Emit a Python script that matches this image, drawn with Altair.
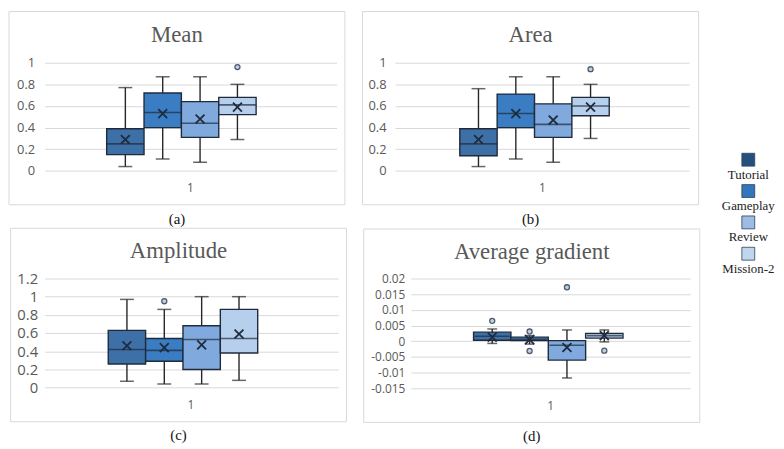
import altair as alt
import pandas as pd

# ---------------- data ----------------
series = ["Tutorial", "Gameplay", "Review", "Mission-2"]
box_colors = ["#3e70a8", "#3b7dc3", "#80aade", "#b6cfec"]
legend_colors = ["#24507e", "#3276bd", "#9cbce3", "#c0d5ee"]
category = "1"

titles = ["Mean", "Area", "Amplitude", "Average gradient"]
captions = ["(a)", "(b)", "(c)", "(d)"]

mean_low = [0.04, 0.11, 0.08, 0.29]
mean_q1 = [0.15, 0.40, 0.31, 0.52]
mean_median = [0.25, 0.54, 0.44, 0.61]
mean_q3 = [0.39, 0.72, 0.64, 0.68]
mean_high = [0.77, 0.87, 0.87, 0.80]
mean_avg = [0.29, 0.53, 0.48, 0.59]
mean_outliers = [[], [], [], [0.96]]
mean_ticks = [0, 0.2, 0.4, 0.6, 0.8, 1]

area_low = [0.04, 0.11, 0.08, 0.30]
area_q1 = [0.14, 0.40, 0.31, 0.51]
area_median = [0.25, 0.53, 0.43, 0.60]
area_q3 = [0.39, 0.71, 0.62, 0.68]
area_high = [0.76, 0.87, 0.87, 0.80]
area_avg = [0.29, 0.53, 0.47, 0.59]
area_outliers = [[], [], [], [0.94]]
area_ticks = [0, 0.2, 0.4, 0.6, 0.8, 1]

amp_low = [0.07, 0.04, 0.04, 0.08]
amp_q1 = [0.26, 0.29, 0.20, 0.38]
amp_median = [0.42, 0.41, 0.53, 0.54]
amp_q3 = [0.63, 0.54, 0.68, 0.86]
amp_high = [0.97, 0.86, 1.00, 1.00]
amp_avg = [0.46, 0.44, 0.47, 0.59]
amp_outliers = [[], [0.95], [], []]
amp_ticks = [0, 0.2, 0.4, 0.6, 0.8, 1, 1.2]

grad_low = [-0.0007, -0.0009, -0.0117, -0.0002]
grad_q1 = [0.0003, 0.0002, -0.0060, 0.0010]
grad_median = [0.0016, 0.0006, -0.0013, 0.0018]
grad_q3 = [0.0029, 0.0013, 0.0002, 0.0025]
grad_high = [0.0039, 0.0018, 0.0036, 0.0036]
grad_avg = [0.0013, 0.0005, -0.0020, 0.0018]
grad_outliers = [[0.0065], [0.0031, -0.0031], [0.0172], [-0.0030]]
grad_ticks = [-0.015, -0.01, -0.005, 0, 0.005, 0.01, 0.015, 0.02]

# ---------------- layout (sizes only) ----------------
geoms = [
    dict(L=36, W=295, R=8.4, T=51.7, H=109.3, B=34.2, gl=62.7, gw=151, lab=13, pad=10, cap=14),
    dict(L=32.8, W=297.2, R=9.6, T=51.7, H=109.3, B=34.2, gl=65.5, gw=150.7, lab=13, pad=9, cap=14),
    dict(L=34.4, W=296.6, R=8.4, T=50.7, H=110.3, B=34.4, gl=64.3, gw=151, lab=15, pad=7, cap=14),
    dict(L=47.6, W=282.4, R=9.6, T=50, H=111, B=34.4, gl=63.4, gw=141.6, lab=12, pad=6, cap=10),
]

SANS = "Open Sans"
SERIF = "Liberation Serif"
GRAY = "#595959"
DARK = "#1f2b3b"


def panel(title, caption, low, q1, med, q3, high, avg, outl, ticks, g):
    df = pd.DataFrame({
        "cat": [category] * len(series), "series": series,
        "low": low, "q1": q1, "median": med, "q3": q3, "high": high, "avg": avg,
    })
    odf = pd.DataFrame([{"cat": category, "series": s, "value": v}
                        for s, vals in zip(series, outl) for v in vals])
    W, H = g["W"], g["H"]
    box_w = g["gw"] / 4.0
    po = (W / g["gw"] - 1) / 2.0
    align = g["gl"] / (W - g["gw"])
    label_shift = round(W / 2.0 - (g["gl"] + g["gw"] / 2.0))

    xscale = alt.Scale(paddingInner=0, paddingOuter=po, align=align)
    xaxis = alt.Axis(labelAngle=0, ticks=False, domain=False, grid=False,
                     labelPadding=12, labelFont=SANS, labelFontSize=12,
                     labelColor=GRAY, labelOffset=label_shift)
    xoscale = alt.Scale(domain=series, paddingInner=0, paddingOuter=0)
    yscale = alt.Scale(domain=[ticks[0], ticks[-1]], nice=False, zero=False)
    yaxis = alt.Axis(values=ticks, grid=True, gridColor="#d9d9d9", gridWidth=1,
                     domain=False, ticks=False, labelFont=SANS,
                     labelFontSize=g["lab"], labelColor=GRAY,
                     labelPadding=g["pad"], format="~g", labelOverlap=False,
                     labelExpr="replace(datum.label, '\u2212', '-')")

    def X():
        return alt.X("cat:N", scale=xscale, axis=xaxis, title=None)

    def XO():
        return alt.XOffset("series:N", scale=xoscale)

    def Y(f):
        return alt.Y(f + ":Q", scale=yscale, axis=yaxis, title=None)

    base = alt.Chart(df)
    whisker = base.mark_rule(color="#262626", strokeWidth=1.4).encode(
        x=X(), xOffset=XO(), y=Y("low"), y2="high:Q")
    box = base.mark_bar(stroke=DARK, strokeWidth=1.4).encode(
        x=X(), xOffset=XO(), y=Y("q1"), y2="q3:Q",
        color=alt.Color("series:N", scale=alt.Scale(domain=series, range=box_colors),
                        legend=None))
    median = base.mark_tick(orient="horizontal", color=DARK, thickness=1.6,
                            size=box_w).encode(x=X(), xOffset=XO(), y=Y("median"))
    cap_lo = base.mark_tick(orient="horizontal", color="#262626", thickness=1.5,
                            size=g["cap"]).encode(x=X(), xOffset=XO(), y=Y("low"))
    cap_hi = base.mark_tick(orient="horizontal", color="#262626", thickness=1.5,
                            size=g["cap"]).encode(x=X(), xOffset=XO(), y=Y("high"))
    meanx = base.mark_point(shape="M-1,-1L1,1M-1,1L1,-1", filled=False, size=81,
                            strokeWidth=1.8, color=DARK, opacity=1).encode(
        x=X(), xOffset=XO(), y=Y("avg"))
    outp = alt.Chart(odf).mark_point(shape="circle", filled=True, fill="#c3cfdd",
                                     stroke="#4a5b70", strokeWidth=1.3, size=26,
                                     opacity=1).encode(
        x=X(), xOffset=XO(), y=Y("value"))

    cx = (W + g["R"] - g["L"]) / 2.0
    frame = alt.Chart(pd.DataFrame({"k": [0]})).mark_rect(
        fillOpacity=0, stroke="#d9d9d9", strokeWidth=1).encode(
        x=alt.value(-g["L"]), x2=alt.value(W + g["R"]),
        y=alt.value(-g["T"]), y2=alt.value(H + g["B"]))
    ttl = alt.Chart(pd.DataFrame({"t": [title]})).mark_text(
        font=SERIF, fontSize=23, color=GRAY, baseline="alphabetic", align="center").encode(
        x=alt.value(cx), y=alt.value(-g["T"] + 30.5), text="t:N")
    cap = alt.Chart(pd.DataFrame({"t": [caption]})).mark_text(
        font=SERIF, fontSize=15, color="#111111", baseline="middle", align="center").encode(
        x=alt.value(cx), y=alt.value(H + g["B"] + 14), text="t:N")

    return alt.layer(whisker, box, median, cap_lo, cap_hi, meanx, outp, frame, ttl, cap
                     ).properties(width=W, height=H)


pa = panel(titles[0], captions[0], mean_low, mean_q1, mean_median, mean_q3, mean_high,
           mean_avg, mean_outliers, mean_ticks, geoms[0])
pb = panel(titles[1], captions[1], area_low, area_q1, area_median, area_q3, area_high,
           area_avg, area_outliers, area_ticks, geoms[1])
pc = panel(titles[2], captions[2], amp_low, amp_q1, amp_median, amp_q3, amp_high,
           amp_avg, amp_outliers, amp_ticks, geoms[2])
pd_ = panel(titles[3], captions[3], grad_low, grad_q1, grad_median, grad_q3, grad_high,
            grad_avg, grad_outliers, grad_ticks, geoms[3])

# ---------------- legend ----------------
LEG_DROP = 98
leg_df = pd.DataFrame({"series": series})
leg_y = alt.Y("series:N", scale=alt.Scale(type="point", domain=series, padding=0),
              axis=None)
leg_sq = alt.Chart(leg_df).mark_square(size=169, stroke="#2f3f55", strokeWidth=0.8,
                                       opacity=1, yOffset=LEG_DROP).encode(
    y=leg_y,
    color=alt.Color("series:N", scale=alt.Scale(domain=series, range=legend_colors),
                    legend=None))
leg_tx = alt.Chart(leg_df).mark_text(yOffset=LEG_DROP + 15, font=SERIF, fontSize=13,
                                     color="#222222", baseline="middle",
                                     align="center").encode(
    y=leg_y, text="series:N")
legend = alt.layer(leg_sq, leg_tx).properties(width=40, height=95)

row1 = alt.hconcat(pa, pb, spacing=15)
row2 = alt.hconcat(pc, pd_, spacing=15)
grid = alt.vconcat(row1, row2, spacing=0)

chart = alt.hconcat(grid, legend, spacing=20).properties(
    padding=0, background="white"
).configure_view(stroke="transparent").resolve_scale(color="independent")

chart.save("out.html", embed_options={"renderer": "svg", "actions": False})
